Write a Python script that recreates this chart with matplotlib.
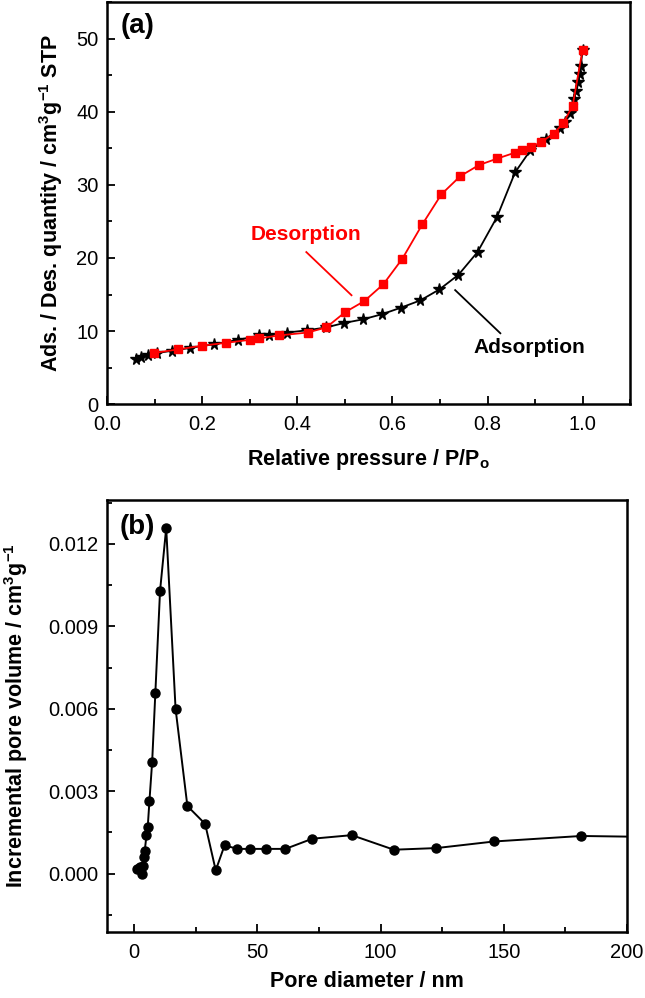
import matplotlib
matplotlib.use("Agg")
import matplotlib.pyplot as plt
from matplotlib.ticker import MultipleLocator

plt.rcParams['font.family'] = ['Liberation Sans', 'DejaVu Sans']
plt.rcParams['mathtext.fontset'] = 'custom'
plt.rcParams['mathtext.rm'] = 'Liberation Sans'
plt.rcParams['mathtext.bf'] = 'Liberation Sans:bold'
plt.rcParams['axes.unicode_minus'] = False

# (a) isotherm, adsorption branch
ads_p = [0.060, 0.072, 0.087, 0.106, 0.136, 0.175, 0.225, 0.276, 0.320, 0.341,
         0.379, 0.420, 0.461, 0.498, 0.538, 0.578, 0.618, 0.659, 0.699, 0.739,
         0.779, 0.820, 0.858, 0.890, 0.922, 0.952, 0.963, 0.974, 0.981, 0.987,
         0.991, 0.994, 0.996, 1.000]
ads_q = [6.2, 6.4, 6.7, 7.0, 7.3, 7.7, 8.2, 8.8, 9.4, 9.5,
         9.8, 10.1, 10.5, 11.1, 11.6, 12.3, 13.2, 14.2, 15.7, 17.7,
         20.8, 25.6, 31.7, 34.7, 36.2, 37.8, 38.6, 39.8, 41.7, 42.8,
         44.0, 45.1, 46.2, 48.4]

# (a) isotherm, desorption branch
des_p = [1.000, 0.979, 0.959, 0.939, 0.912, 0.892, 0.872, 0.858, 0.821, 0.782,
         0.743, 0.703, 0.663, 0.621, 0.581, 0.541, 0.501, 0.461, 0.422, 0.361,
         0.320, 0.300, 0.251, 0.200, 0.150, 0.098]
des_q = [48.5, 40.8, 38.4, 37.0, 35.8, 35.2, 34.7, 34.4, 33.6, 32.7,
         31.2, 28.7, 24.6, 19.9, 16.4, 14.1, 12.6, 10.5, 9.8, 9.4,
         9.0, 8.8, 8.4, 8.0, 7.5, 7.0]

# (b) pore size distribution
pore_d = [1.2, 2.2, 3.2, 3.7, 4.0, 4.3, 5.0, 5.5, 6.2, 7.3,
          8.6, 10.5, 13.0, 16.8, 21.6, 28.8, 33.1, 36.7, 41.9, 47.2,
          53.6, 61.4, 72.3, 88.3, 105.4, 122.7, 146.1, 181.4, 230.0]
pore_v = [0.00016, 0.00025, 0.00000, 0.00029, 0.00060, 0.00084, 0.00140, 0.00169, 0.00265, 0.00407,
          0.00659, 0.01029, 0.01258, 0.00600, 0.00246, 0.00181, 0.00012, 0.00103, 0.00090, 0.00090,
          0.00090, 0.00090, 0.00127, 0.00140, 0.00087, 0.00093, 0.00117, 0.00137, 0.00131]


def style_axes(ax):
    for s in ax.spines.values():
        s.set_linewidth(1.8)
    ax.tick_params(which='both', direction='in', top=False, right=False,
                   width=1.3, labelsize=14.5)
    ax.tick_params(axis='x', pad=8)
    ax.tick_params(axis='y', pad=6)
    ax.tick_params(which='major', length=6)
    ax.tick_params(which='minor', length=3.5)


fig = plt.figure(figsize=(6.45, 9.98), dpi=100)
ax1 = fig.add_axes([0.166, 0.595, 0.811, 0.403])
ax2 = fig.add_axes([0.166, 0.066, 0.806, 0.433])

# panel (a)
ax1.plot(ads_p, ads_q, color='black', marker='*', markersize=8.5, linewidth=1.3, zorder=3)
ax1.plot(des_p, des_q, color='red', marker='s', markersize=6, linewidth=1.3, zorder=4)
ax1.set_xlim(0, 1.1)
ax1.set_ylim(0, 55)
ax1.xaxis.set_minor_locator(MultipleLocator(0.1))
ax1.yaxis.set_major_locator(MultipleLocator(10))
ax1.yaxis.set_minor_locator(MultipleLocator(5))
ax1.set_xticks([0, 0.2, 0.4, 0.6, 0.8, 1.0])
ax1.set_xticklabels(['0.0', '0.2', '0.4', '0.6', '0.8', '1.0'])
style_axes(ax1)
ax1.set_xlabel(r'Relative pressure / P/P$_\mathbf{o}$', fontsize=15.5, fontweight='bold', labelpad=9)
ax1.set_ylabel(r'Ads. / Des. quantity / cm$^\mathbf{3}$g$^\mathbf{-1}$ STP', fontsize=15.5,
               fontweight='bold', labelpad=8)
ax1.text(0.025, 0.94, '(a)', transform=ax1.transAxes, fontsize=20, fontweight='bold',
         ha='left', va='center')
ax1.text(0.419, 23.2, 'Desorption', color='red', fontsize=15, fontweight='bold',
         ha='center', va='center')
ax1.plot([0.419, 0.514], [20.8, 14.9], color='red', linewidth=1.3)
ax1.text(0.888, 7.8, 'Adsorption', color='black', fontsize=15, fontweight='bold',
         ha='center', va='center')
ax1.plot([0.732, 0.827], [15.6, 9.7], color='black', linewidth=1.3)

# panel (b)
ax2.plot(pore_d, pore_v, color='black', marker='o', markersize=6.5, linewidth=1.4)
ax2.set_xlim(-11, 200)
ax2.set_ylim(-0.00213, 0.0136)
ax2.xaxis.set_major_locator(MultipleLocator(50))
ax2.xaxis.set_minor_locator(MultipleLocator(25))
ax2.set_yticks([0.0, 0.003, 0.006, 0.009, 0.012])
ax2.set_yticklabels(['0.000', '0.003', '0.006', '0.009', '0.012'])
ax2.yaxis.set_minor_locator(MultipleLocator(0.0015))
style_axes(ax2)
ax2.set_xlabel('Pore diameter / nm', fontsize=15.5, fontweight='bold', labelpad=6)
ax2.set_ylabel(r'Incremental pore volume / cm$^\mathbf{3}$g$^\mathbf{-1}$', fontsize=15.5,
               fontweight='bold', labelpad=13)
ax2.text(0.025, 0.9375, '(b)', transform=ax2.transAxes, fontsize=20, fontweight='bold',
         ha='left', va='center')

fig.savefig('out.png', dpi=100)
